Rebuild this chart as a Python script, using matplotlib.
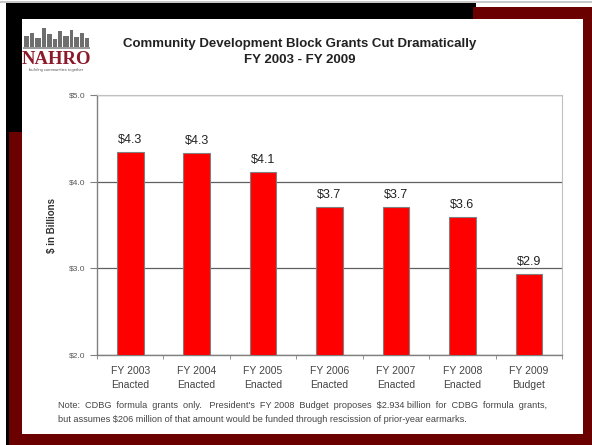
import matplotlib
matplotlib.use("Agg")
import matplotlib.pyplot as plt
from matplotlib.patches import Rectangle

plt.rcParams['font.family'] = ['Liberation Sans', 'DejaVu Sans']

categories = ["FY 2003\nEnacted", "FY 2004\nEnacted", "FY 2005\nEnacted", "FY 2006\nEnacted",
              "FY 2007\nEnacted", "FY 2008\nEnacted", "FY 2009\nBudget"]
values = [4.34, 4.33, 4.11, 3.71, 3.71, 3.59, 2.93]
value_labels = ["$4.3", "$4.3", "$4.1", "$3.7", "$3.7", "$3.6", "$2.9"]
yticks = [2.0, 3.0, 4.0, 5.0]
ytick_labels = ["$2.0", "$3.0", "$4.0", "$5.0"]

W, H = 592, 445
fig = plt.figure(figsize=(W / 100, H / 100), dpi=100)
fig.patch.set_facecolor("white")

def rect(x, y, w, h, color, z=0):
    fig.patches.append(Rectangle((x / W, 1 - (y + h) / H), w / W, h / H,
                                 transform=fig.transFigure, facecolor=color,
                                 edgecolor="none", zorder=z))

DARKRED = "#6b0000"
# frame decorations
rect(0, 1.5, W, 1.5, "#c8c8c8")
rect(6, 3, 470, 16, "black")
rect(6, 3, 16, 130, "black")
rect(6, 3, 3, 442, "black")
rect(473, 7, 119, 438, DARKRED)
rect(9, 132, 13, 313, DARKRED)
rect(9, 434, 583, 11, DARKRED)
rect(22, 19, 561, 415, "white", z=1)

# logo skyline
sky = [(24, 36, 5, 11), (30, 33, 4, 14), (35, 38, 6, 9), (42, 28, 4, 19), (47, 34, 5, 13),
       (53, 39, 4, 8), (58, 31, 4, 16), (63, 36, 6, 11), (70, 30, 3, 17), (74, 37, 5, 10),
       (80, 33, 4, 14), (85, 38, 4, 9)]
for (x, y, w, h) in sky:
    rect(x, y, w, h, "#6e6e6e", z=2)
rect(23, 47, 67, 2, "#9a9a9a", z=2)
fig.text(56 / W, 1 - 59 / H, "NAHRO", ha="center", va="center", fontsize=13.5,
         fontweight="bold", family="Liberation Serif", color="#8b1a2b", zorder=3)
fig.text(56 / W, 1 - 70 / H, "building communities together", ha="center", va="center",
         fontsize=3, color="#555555", zorder=3)

# title
fig.text(300 / W, 1 - 44 / H, "Community Development Block Grants Cut Dramatically",
         ha="center", va="center", fontsize=9.5, fontweight="bold", color="#222222", zorder=3)
fig.text(300 / W, 1 - 60 / H, "FY 2003 - FY 2009", ha="center", va="center",
         fontsize=9.5, fontweight="bold", color="#222222", zorder=3)

# axes
ax = fig.add_axes([97 / W, (H - 355) / H, (562 - 97) / W, (355 - 95) / H])
ax.set_zorder(4)
ax.set_facecolor("white")
x = list(range(len(categories)))
ax.bar(x, values, width=0.40, color="#ff0000", edgecolor="#808080", linewidth=0.8, zorder=3)
for xi, v, lab in zip(x, values, value_labels):
    ax.text(xi, v + 0.07, lab, ha="center", va="bottom", fontsize=9, color="#222222")

ax.set_xlim(-0.5, len(categories) - 0.5)
ax.set_ylim(2.0, 5.0)
ax.set_yticks(yticks)
ax.set_yticklabels(ytick_labels, fontsize=6, color="#555555")
ax.yaxis.grid(True, color="#606060", linewidth=0.9)
ax.set_axisbelow(True)
ax.set_xticks(x)
ax.set_xticklabels(categories, fontsize=7.5, color="#444444", linespacing=1.5)
ax.set_xticks([i - 0.5 for i in range(len(categories) + 1)], minor=True)
ax.tick_params(axis="x", which="major", length=0, pad=8)
ax.tick_params(axis="x", which="minor", length=3, color="#808080", direction="out")
ax.tick_params(axis="y", length=5, color="#808080", pad=3)
for s in ["left", "bottom"]:
    ax.spines[s].set_color("#808080")
    ax.spines[s].set_linewidth(1.0)
for s in ["top", "right"]:
    ax.spines[s].set_color("#c0c0c0")
    ax.spines[s].set_linewidth(0.8)
ax.set_ylabel("$ in Billions", fontsize=7, fontweight="bold", color="#333333", labelpad=9)

# note
fig.text(58 / W, 1 - 406 / H,
         "Note:  CDBG  formula  grants  only.   President's  FY 2008  Budget  proposes  $2.934 billion  for  CDBG  formula  grants,",
         ha="left", va="center", fontsize=6.6, color="#444444", zorder=3)
fig.text(58 / W, 1 - 419 / H,
         "but assumes $206 million of that amount would be funded through rescission of prior-year earmarks.",
         ha="left", va="center", fontsize=6.6, color="#444444", zorder=3)

fig.savefig("out.png", dpi=100, facecolor=fig.get_facecolor())
